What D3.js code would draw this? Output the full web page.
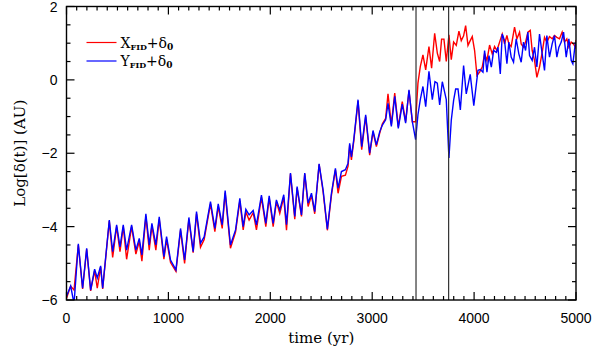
<!DOCTYPE html>
<html>
<head>
<meta charset="utf-8">
<script src="https://cdn.jsdelivr.net/npm/d3@7"></script>
<style>
  body { margin: 0; background: #fff; }
  .tick-label { font-family: "Liberation Sans", "DejaVu Sans", sans-serif; font-size: 14px; fill: #000; }
  .title { font-family: "DejaVu Serif", "Liberation Serif", serif; font-size: 14px; fill: #000; }
</style>
</head>
<body>
<div id="chart"></div>
<script>
// ---- data (time in yr, log10 distance in AU) ----
const yearsEarly = [0, 41, 74, 116, 158, 198, 237, 276, 302, 335, 355, 420, 453, 492, 525, 557, 590, 639,
  681, 714, 740, 779, 812, 838, 877, 910, 956, 982, 1021, 1074, 1119, 1159, 1201, 1243, 1276, 1315, 1351,
  1413, 1456, 1489, 1528, 1557, 1609, 1659, 1701, 1734, 1760, 1792, 1832, 1864, 1913, 1956, 1989, 2028,
  2060, 2093, 2132, 2159, 2198, 2240, 2263, 2306, 2338, 2371, 2404, 2436, 2479, 2518, 2560, 2600, 2639,
  2665, 2698, 2737, 2763, 2779, 2796, 2819, 2861, 2897, 2936, 2975, 3008, 3041, 3074, 3100, 3132, 3155,
  3188, 3221, 3256, 3295, 3328, 3361, 3394, 3426];

const yFidEarly = [-5.9, -5.62, -6.1, -4.47, -5.68, -4.59, -5.73, -5.16, -5.4, -5.07, -5.68, -3.82, -4.68,
  -3.95, -4.55, -3.95, -4.64, -3.95, -4.64, -4.32, -4.77, -3.65, -4.5, -3.91, -4.5, -3.73, -4.82, -4.27,
  -4.91, -5.18, -4.05, -4.91, -3.75, -4.68, -3.59, -4.45, -4.28, -3.32, -4.05, -3.38, -3.95, -3.02, -4.5,
  -4.09, -3.23, -4.0, -3.53, -3.68, -3.56, -3.95, -3.14, -3.91, -3.16, -3.91, -3.27, -3.55, -3.13, -3.95,
  -2.54, -3.72, -2.91, -3.68, -2.54, -3.36, -3.09, -3.59, -2.29, -3.0, -4.07, -3.09, -2.41, -2.95, -2.5,
  -2.45, -2.27, -1.73, -2.1, -1.63, -0.54, -1.82, -0.95, -2.0, -1.38, -1.77, -1.41, -1.23, -1.09, -0.64,
  -1.27, -0.45, -1.32, -0.66, -1.18, -0.27, -1.14, -1.63];

const xFidEarly = [-5.95, -5.62, -5.73, -4.5, -5.7, -4.62, -5.75, -5.2, -5.68, -5.1, -5.7, -3.85, -4.84,
  -4.0, -4.68, -4.0, -4.89, -4.0, -4.75, -4.4, -4.94, -3.72, -4.64, -3.98, -4.64, -3.8, -4.89, -4.35,
  -4.98, -5.22, -4.1, -5.0, -3.8, -4.71, -3.65, -4.56, -4.35, -3.38, -4.14, -3.45, -4.05, -3.08, -4.59,
  -4.15, -3.3, -4.09, -3.6, -3.82, -3.62, -4.09, -3.2, -4.0, -3.22, -4.0, -3.32, -3.64, -3.2, -4.1,
  -2.56, -3.8, -2.95, -3.72, -2.56, -3.45, -3.15, -3.65, -2.3, -3.05, -4.1, -3.15, -2.45, -3.09, -2.63,
  -2.6, -2.35, -1.78, -2.18, -1.68, -0.58, -1.9, -1.0, -2.05, -1.42, -1.82, -1.45, -1.2, -1.05, -0.38,
  -1.22, -0.36, -1.28, -0.59, -1.14, -0.3, -1.14, -1.14];

const xFidLateYears = [3449, 3472, 3498, 3525, 3557, 3583, 3613, 3639, 3662, 3681, 3704, 3727, 3753, 3776,
  3799, 3825, 3851, 3874, 3897, 3917, 3940, 3962, 3982, 4005, 4028, 4054, 4080, 4103, 4126, 4152, 4178,
  4201, 4224, 4250, 4276, 4299, 4322, 4341, 4364, 4397, 4420, 4446, 4462, 4485, 4505, 4528, 4551, 4570,
  4593, 4616, 4642, 4668, 4691, 4714, 4740, 4766, 4789, 4812, 4838, 4864, 4887, 4910, 4930, 4953, 4975,
  4995, 5000];
const xFidLate = [-0.09, 0.36, 0.68, 0.27, 0.91, 0.32, 1.27, 0.73, 0.5, 1.11, 1.11, 0.5, 1.23, 0.55, 1.03,
  0.94, 1.33, 1.07, 1.2, 1.48, 0.94, 1.07, 1.18, 0.8, 0.12, 0.21, 0.35, 0.71, 0.53, 0.95, 0.71, 0.91, 0.8,
  1.03, 1.25, 0.98, 1.21, 0.98, 0.91, 1.44, 1.12, 1.3, 0.98, 0.89, 1.03, 1.3, 1.35, 0.8, 0.53, 0.07, 0.35,
  0.75, 1.16, 1.03, 1.18, 1.12, 1.21, 1.16, 1.12, 1.3, 1.03, 1.12, 0.89, 1.03, 0.98, 0.89, 1.09];

const yFidLateYears = [3449, 3472, 3498, 3525, 3557, 3590, 3616, 3639, 3662, 3688, 3727, 3753, 3776, 3799,
  3819, 3842, 3865, 3897, 3923, 3962, 3997, 4038, 4061, 4087, 4103, 4126, 4146, 4169, 4192, 4218, 4234,
  4257, 4276, 4299, 4322, 4341, 4364, 4387, 4413, 4439, 4462, 4485, 4505, 4528, 4544, 4570, 4593, 4616,
  4642, 4668, 4691, 4714, 4740, 4766, 4789, 4812, 4832, 4855, 4878, 4904, 4930, 4953, 4969, 4995, 5000];
const yFidLate = [-0.95, -0.54, -0.18, -0.73, 0.23, -0.54, -0.05, -0.09, -0.68, -0.05, -0.54, -2.13, -1.1,
  -0.56, -0.25, -0.25, -0.82, 0.39, -0.38, 0.15, -0.7, 0.26, 0.28, 0.21, 0.8, 0.21, 0.66, 0.35, 0.8, 0.75,
  0.89, 0.16, 1.25, 1.07, 0.44, 1.03, 0.62, 0.48, 1.12, 0.71, 0.48, 1.03, 0.8, 1.3, 0.66, 0.53, 0.89, 0.35,
  1.25, 0.71, 0.26, 1.21, 0.62, 0.98, 1.21, 0.62, 0.89, 1.03, 1.3, 0.62, 1.12, 0.53, 0.44, 1.03, 0.98];

const markerYears = [3430, 3750];
const xTicks = [0, 1000, 2000, 3000, 4000, 5000];
const yTicks = [-6, -4, -2, 0, 2];

// ---- layout ----
const W = 608, H = 350;
const margin = { left: 66.5, right: 32, top: 6.5, bottom: 50 };
const pw = W - margin.left - margin.right;
const ph = H - margin.top - margin.bottom;

const svg = d3.select('#chart').append('svg').attr('width', W).attr('height', H);
const g = svg.append('g').attr('transform', `translate(${margin.left},${margin.top})`);

const x = d3.scaleLinear().domain([0, 5000]).range([0, pw]);
const y = d3.scaleLinear().domain([-6, 2]).range([ph, 0]);

g.append('clipPath').attr('id', 'plotclip')
  .append('rect').attr('width', pw).attr('height', ph);

const zip = (ts, vs) => ts.map((t, i) => ({ t: t, v: vs[i] }));
const xfid = zip(yearsEarly, xFidEarly).concat(zip(xFidLateYears, xFidLate));
const yfid = zip(yearsEarly, yFidEarly).concat(zip(yFidLateYears, yFidLate));

const line = d3.line().x(d => x(d.t)).y(d => y(d.v));

const plot = g.append('g').attr('clip-path', 'url(#plotclip)');
plot.append('path').datum(xfid).attr('d', line)
  .attr('fill', 'none').attr('stroke', '#ff0000').attr('stroke-width', 1.4);
plot.append('path').datum(yfid).attr('d', line)
  .attr('fill', 'none').attr('stroke', '#0000ff').attr('stroke-width', 1.4);

// vertical markers
g.selectAll('.marker').data(markerYears).enter().append('line')
  .attr('x1', d => x(d)).attr('x2', d => x(d)).attr('y1', 0).attr('y2', ph)
  .attr('stroke', '#333').attr('stroke-width', 1.2);

// ---- IDL style box with inward ticks ----
const axisColor = '#000';
g.append('rect').attr('width', pw).attr('height', ph)
  .attr('fill', 'none').attr('stroke', axisColor).attr('stroke-width', 1.4);

const xMinor = d3.range(0, 5001, 100);
const yMinor = d3.range(-6, 2.01, 0.5);
const isMajorX = t => t % 1000 === 0;
const isMajorY = v => Math.abs(v % 2) < 1e-6;

xMinor.forEach(t => {
  const len = isMajorX(t) ? 8 : 4;
  g.append('line').attr('x1', x(t)).attr('x2', x(t)).attr('y1', ph).attr('y2', ph - len)
    .attr('stroke', axisColor).attr('stroke-width', 1.2);
  g.append('line').attr('x1', x(t)).attr('x2', x(t)).attr('y1', 0).attr('y2', len)
    .attr('stroke', axisColor).attr('stroke-width', 1.2);
});
yMinor.forEach(v => {
  const len = isMajorY(v) ? 8 : 4;
  g.append('line').attr('x1', 0).attr('x2', len).attr('y1', y(v)).attr('y2', y(v))
    .attr('stroke', axisColor).attr('stroke-width', 1.2);
  g.append('line').attr('x1', pw).attr('x2', pw - len).attr('y1', y(v)).attr('y2', y(v))
    .attr('stroke', axisColor).attr('stroke-width', 1.2);
});

// tick labels
g.selectAll('.xl').data(xTicks).enter().append('text')
  .attr('class', 'tick-label')
  .attr('x', d => x(d)).attr('y', ph + 23)
  .attr('text-anchor', 'middle')
  .text(d => d);

g.selectAll('.yl').data(yTicks).enter().append('text')
  .attr('class', 'tick-label')
  .attr('x', -9).attr('y', d => y(d) + 5)
  .attr('text-anchor', 'end')
  .text(d => d < 0 ? '\u2212' + Math.abs(d) : d);

// axis titles
g.append('text').attr('class', 'title')
  .attr('x', pw / 2).attr('y', ph + 43)
  .attr('text-anchor', 'middle').style('font-size', '15px')
  .text('time (yr)');

g.append('text').attr('class', 'title')
  .attr('transform', `translate(${-42},${ph / 2}) rotate(-90)`)
  .attr('text-anchor', 'middle').style('font-size', '15px')
  .text('Log[\u03b4(t)] (AU)');

// ---- legend ----
const legend = g.append('g').attr('transform', 'translate(20,36)');
const legendItems = [
  { name: 'X', color: '#ff0000' },
  { name: 'Y', color: '#0000ff' }
];
legendItems.forEach((item, i) => {
  const row = legend.append('g').attr('transform', `translate(0,${i * 18.5})`);
  row.append('line').attr('x1', 0).attr('x2', 30).attr('y1', 0).attr('y2', 0)
    .attr('stroke', item.color).attr('stroke-width', 1.2);
  const t = row.append('text').attr('class', 'title').attr('x', 34).attr('y', 5);
  t.append('tspan').text(item.name);
  t.append('tspan').attr('baseline-shift', '-25%').style('font-size', '8px')
    .style('font-weight', 'bold').text('FID');
  t.append('tspan').text('+\u03b4');
  t.append('tspan').attr('baseline-shift', '-25%').style('font-size', '9px')
    .style('font-weight', 'bold').text('0');
});
</script>
</body>
</html>
